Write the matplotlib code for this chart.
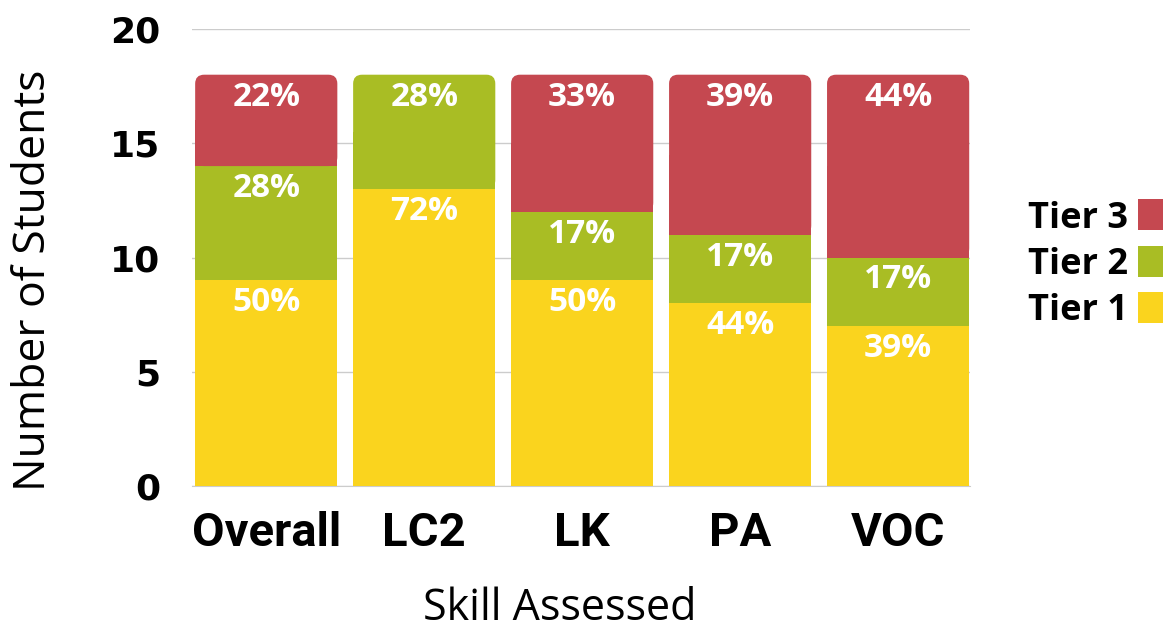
import matplotlib
matplotlib.use("Agg")
import matplotlib.pyplot as plt
from matplotlib.patches import FancyBboxPatch, Rectangle

categories = ["Overall", "LC2", "LK", "PA", "VOC"]
tier1 = [9, 13, 9, 8, 7]
tier2 = [5, 5, 3, 3, 3]
tier3 = [4, 0, 6, 7, 8]
pct1 = ["50%", "72%", "50%", "44%", "39%"]
pct2 = ["28%", "28%", "17%", "17%", "17%"]
pct3 = ["22%", "", "33%", "39%", "44%"]
yticks = [0, 5, 10, 15, 20]
legend_labels = ["Tier 3", "Tier 2", "Tier 1"]

c1, c2, c3 = "#FAD41E", "#A9BD24", "#C54850"

W, H = 1170, 635
fig = plt.figure(figsize=(W / 100, H / 100), dpi=100)
ax = fig.add_axes([192 / W, 1 - 486 / H, (970 - 192) / W, (486 - 29) / H])
ax.set_xlim(-0.47, 4.455)
ax.set_ylim(0, 20)

bw = 0.9
x = list(range(len(categories)))

px_x = (970 - 192) / (4.455 + 0.47)
px_y = (486 - 29) / 20.0
aspect = px_x / px_y
r_x = 9 / px_x

series = [(tier1, c1, pct1), (tier2, c2, pct2), (tier3, c3, pct3)]
for i in x:
    bottom = 0
    segs = [(s[0][i], s[1], s[2][i]) for s in series if s[0][i] > 0]
    for k, (v, col, lab) in enumerate(segs):
        top = bottom + v
        if k == len(segs) - 1:
            p = FancyBboxPatch((i - bw / 2, bottom), bw, v,
                               boxstyle=f"round,pad=0,rounding_size={r_x}",
                               mutation_aspect=aspect, fc=col, ec="none", zorder=3)
            ax.add_patch(p)
            ax.add_patch(Rectangle((i - bw / 2, bottom), bw, v / 2, fc=col, ec="none", zorder=3))
            ax.bar(i, v, bw, bottom=bottom, color="none", zorder=2)
        else:
            ax.bar(i, v, bw, bottom=bottom, color=col, zorder=3)
        if lab:
            ax.annotate(lab, (i, top), xytext=(0, -31), textcoords="offset pixels",
                        ha="center", va="baseline", color="white", fontsize=24,
                        fontweight="bold", family="Open Sans", zorder=4)
        bottom = top

ax.set_yticks(yticks)
ax.set_yticklabels([str(t) for t in yticks], fontsize=26, fontweight="bold", family="DejaVu Sans")
ax.set_xticks(x)
ax.set_xticklabels(categories, fontsize=34, fontweight="bold", family="Roboto")
ax.tick_params(axis="y", length=0, pad=23)
ax.tick_params(axis="x", length=0, pad=18)
ax.grid(axis="y", color="#CCCCCC", lw=1, zorder=0)
ax.set_axisbelow(True)
for s in ["top", "right", "left"]:
    ax.spines[s].set_visible(False)
ax.spines["bottom"].set_color("#CCCCCC")

ax.set_ylabel("Number of Students", fontsize=32, family="Open Sans")
ax.yaxis.set_label_coords((56 - 192) / 778, (486 - 280) / 457)
ax.set_xlabel("Skill Assessed", fontsize=31, family="Open Sans")
ax.xaxis.set_label_coords((560 - 192) / 778, (486 - 586) / 457)

# legend (text left of colour swatch)
row_centers = [215, 261, 307]
for lab, col, yc in zip(legend_labels, [c3, c2, c1], row_centers):
    fig.text(1128 / W, 1 - (yc + 13) / H, lab, ha="right", va="baseline",
             fontsize=26, fontweight="bold", family="Open Sans")
    fig.add_artist(Rectangle((1138 / W, 1 - (yc + 15.5) / H), 25 / W, 31 / H,
                             transform=fig.transFigure, fc=col, ec="none"))

fig.savefig("out.png", dpi=100)
